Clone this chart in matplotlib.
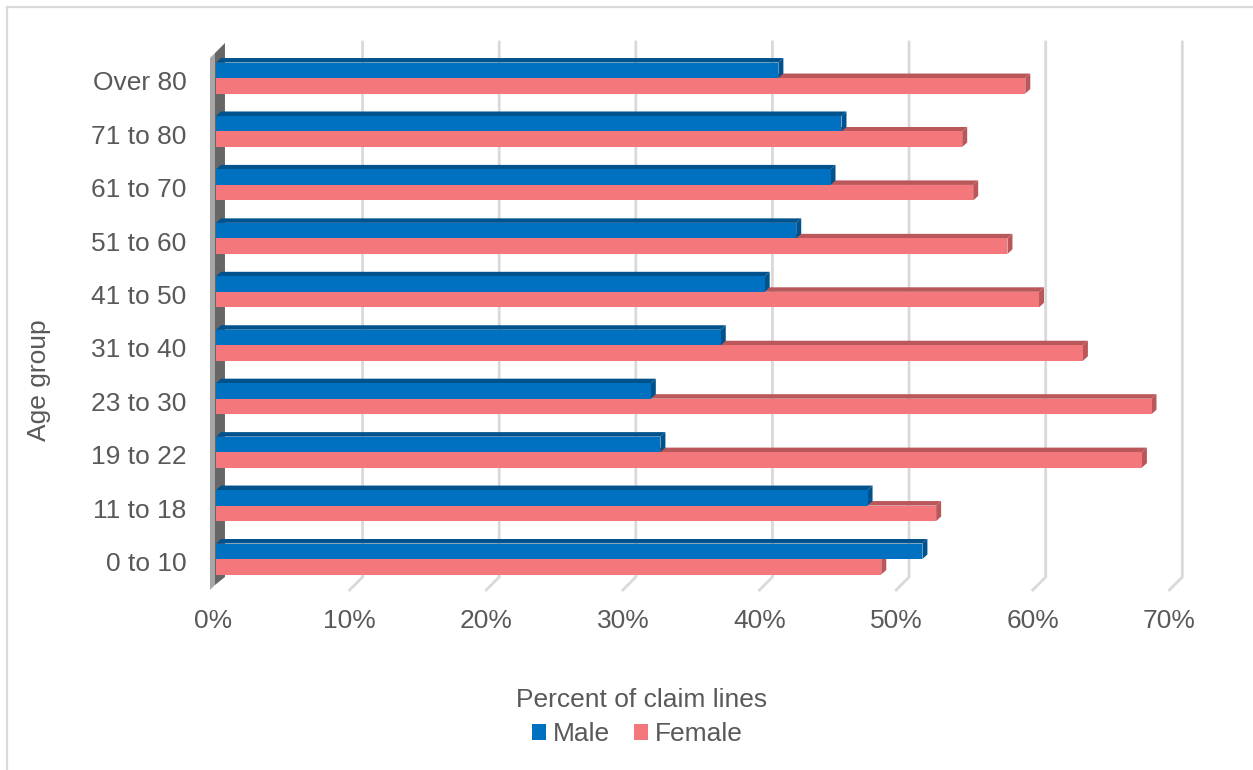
import matplotlib.pyplot as plt
from matplotlib.patches import Polygon, Patch
from matplotlib.lines import Line2D

plt.rcParams['font.family'] = ['Liberation Sans', 'DejaVu Sans']

# claim line share by age group and sex (percent)
age_groups = ['0 to 10', '11 to 18', '19 to 22', '23 to 30', '31 to 40',
              '41 to 50', '51 to 60', '61 to 70', '71 to 80', 'Over 80']
male = [51.5, 47.5, 32.4, 31.7, 36.8, 40.0, 42.3, 44.8, 45.6, 41.0]
female = [48.5, 52.5, 67.5, 68.2, 63.2, 60.0, 57.7, 55.2, 54.4, 59.0]
x_ticks = [0, 10, 20, 30, 40, 50, 60, 70]

TEXT = '#595959'
GRID = '#d9d9d9'
MALE_FRONT, MALE_DARK = '#0070c0', '#00528c'
FEM_FRONT, FEM_DARK = '#f4777b', '#b9575a'

W, H = 1253, 770
fig = plt.figure(figsize=(W / 100, H / 100), dpi=100)

# axes placed so 1% = 13.76 px and one category = 53.44 px
px_x, px_y = 13.76, 53.44
left, right = 213, 213 + 70 * px_x
top, bottom = 559 - 9.5 * px_y, 559 + 0.5 * px_y
ax = fig.add_axes([left / W, 1 - bottom / H, (right - left) / W, (bottom - top) / H])
ax.set_xlim(0, 70)
ax.set_ylim(-0.5, 9.5)
for s in ax.spines.values():
    s.set_visible(False)


def dx(p):
    return p / px_x


def dy(p):
    return p / px_y


# gridlines: vertical in the back plane, angled toward the front at the floor
y_top, y_back, y_front = dy(559 - 42), dy(559 - 577), dy(559 - 590)
for v in x_ticks[1:]:
    xf = v * 0.996 - dx(3)
    xb = xf + dx(13)
    ax.plot([xb, xb, xf], [y_top, y_back, y_front], color=GRID, lw=2.0,
            solid_joinstyle='miter', clip_on=False, zorder=1)

# side wall at 0%
wall_light = [(dx(-6), dy(559 - 58)), (dx(-1), dy(559 - 53)),
              (dx(-1), dy(559 - 585)), (dx(-6), dy(559 - 590))]
wall_dark = [(dx(-1), dy(559 - 53)), (dx(9), dy(559 - 43)),
             (dx(9), dy(559 - 577)), (dx(-1), dy(559 - 585))]
ax.add_patch(Polygon(wall_light, closed=True, fc='#a6a6a6', ec='none', clip_on=False, zorder=2))
ax.add_patch(Polygon(wall_dark, closed=True, fc='#666666', ec='none', clip_on=False, zorder=2))

bh = dy(15.5)
ddx, ddy = dx(5), dy(4.5)


def bar3d(y0, v, front, dark, z):
    y1 = y0 + bh
    ax.add_patch(Polygon([(0, y1), (v, y1), (v + ddx, y1 + ddy), (ddx, y1 + ddy)],
                         closed=True, fc=dark, ec='none', zorder=z))
    ax.add_patch(Polygon([(v, y0), (v, y1), (v + ddx, y1 + ddy), (v + ddx, y0 + ddy)],
                         closed=True, fc=dark, ec='none', zorder=z))
    ax.barh(y0, v, height=bh, align='edge', color=front, lw=0, zorder=z)


for i in range(len(age_groups)):
    bar3d(i - bh, female[i], FEM_FRONT, FEM_DARK, 3)
    bar3d(i, male[i], MALE_FRONT, MALE_DARK, 4)

ax.set_yticks([i - 0.05 for i in range(len(age_groups))])
ax.set_yticklabels(age_groups)
ax.set_xticks([v * 0.996 - dx(3) for v in x_ticks])
ax.set_xticklabels([f'{v}%' for v in x_ticks])
ax.tick_params(axis='both', length=0, labelsize=19, labelcolor=TEXT)
ax.tick_params(axis='y', pad=19)
ax.tick_params(axis='x', pad=17)

fig.text(39 / W, 1 - 380 / H, 'Age group', rotation=90, ha='center', va='center',
         fontsize=19, color=TEXT)
fig.text(642 / W, 1 - 700 / H, 'Percent of claim lines', ha='center', va='center',
         fontsize=19, color=TEXT)

handles = [Patch(fc=MALE_FRONT, ec='none', label='Male'),
           Patch(fc=FEM_FRONT, ec='none', label='Female')]
fig.legend(handles=handles, loc='center', bbox_to_anchor=(637 / W, 1 - 734 / H),
           ncol=2, frameon=False, fontsize=19, labelcolor=TEXT,
           handlelength=0.55, handleheight=0.55, handletextpad=0.25,
           columnspacing=0.9, borderpad=0)

# chart border
fig.add_artist(Line2D([7 / W, 7 / W], [0, 1 - 7 / H], color=GRID, lw=1.6))
fig.add_artist(Line2D([7 / W, 1], [1 - 7 / H, 1 - 7 / H], color=GRID, lw=1.6))

fig.savefig('out.png', dpi=100, facecolor='white')
